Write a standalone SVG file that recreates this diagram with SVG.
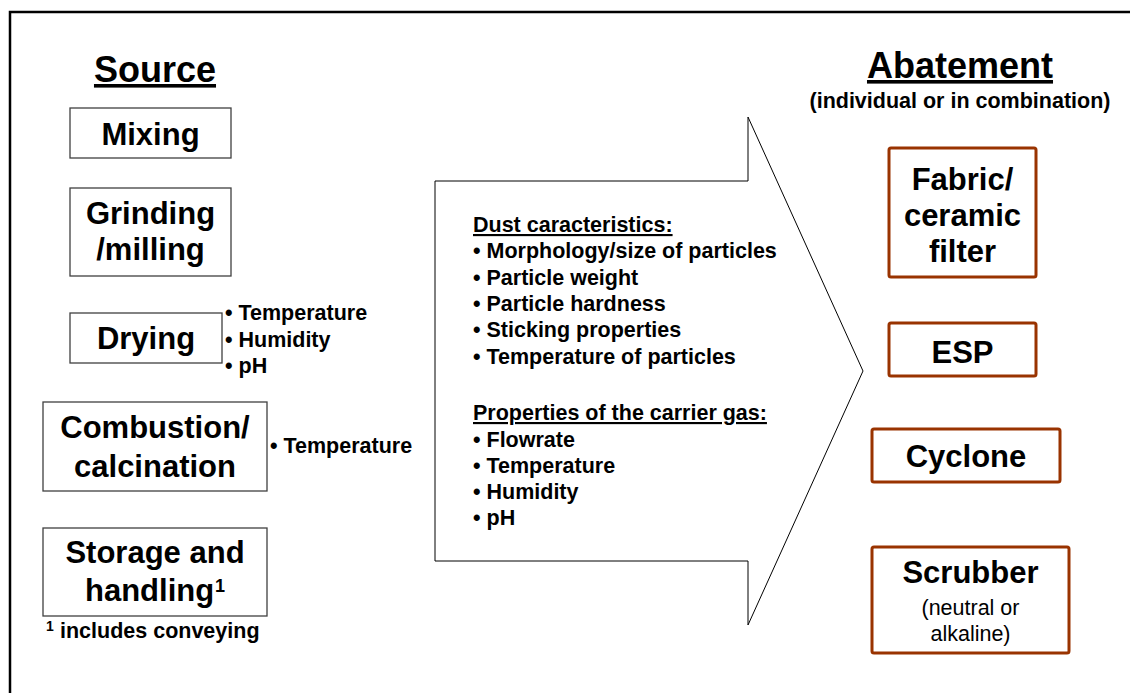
<svg xmlns="http://www.w3.org/2000/svg" width="1130" height="693" viewBox="0 0 1130 693">
<defs>
<style>
text { font-family: "Liberation Sans", Arial, sans-serif; fill: #000; }
.h { font-size: 36px; font-weight: bold; text-anchor: middle; text-decoration: underline; }
.b { font-size: 31px; font-weight: bold; text-anchor: middle; }
.s { font-size: 21.5px; font-weight: bold; }
.sn { font-size: 21.5px; text-anchor: middle; }
.src { fill: #fff; stroke: #404040; stroke-width: 1.3; }
.ab { fill: #fff; stroke: #993300; stroke-width: 3; }
</style>
</defs>
<rect width="1130" height="693" fill="#fff"/>
<path d="M10,693 V12 H1130" fill="none" stroke="#000" stroke-width="2.5"/>

<g id="source-heading"><text class="h" x="155" y="82">Source</text></g>
<g id="mixing"><rect class="src" x="70" y="108" width="161" height="50"/><text class="b" x="150.5" y="145">Mixing</text></g>
<g id="grinding"><rect class="src" x="70" y="188" width="161" height="88"/><text class="b" x="150.5" y="224">Grinding</text><text class="b" x="150.5" y="260">/milling</text></g>
<g id="drying"><rect class="src" x="70" y="313" width="152" height="50"/><text class="b" x="146" y="349">Drying</text>
<text class="s" x="225" y="320">• Temperature</text><text class="s" x="225" y="347">• Humidity</text><text class="s" x="225" y="373">• pH</text></g>
<g id="combustion"><rect class="src" x="43" y="402" width="224" height="89"/><text class="b" x="155" y="438">Combustion/</text><text class="b" x="155" y="477">calcination</text>
<text class="s" x="270" y="453">• Temperature</text></g>
<g id="storage"><rect class="src" x="43" y="528" width="224" height="88"/><text class="b" x="155" y="563">Storage and</text><text class="b" x="85" y="601" style="text-anchor:start">handling</text><text x="215" y="592" style="font-size:18px;font-weight:bold">1</text>
<text x="46" y="631" style="font-size:14px;font-weight:bold">1</text><text class="s" x="60" y="638">includes conveying</text></g>

<g id="connectors">
<polygon points="435,181 748,181 748,117 863,371 748,625 748,561 435,561" fill="#fff" stroke="#000" stroke-width="1"/>
</g>
<g id="properties">
<text class="s" x="473" y="232" style="text-decoration:underline">Dust caracteristics:</text>
<text class="s" x="473" y="258">• Morphology/size of particles</text>
<text class="s" x="473" y="285">• Particle weight</text>
<text class="s" x="473" y="311">• Particle hardness</text>
<text class="s" x="473" y="337">• Sticking properties</text>
<text class="s" x="473" y="364">• Temperature of particles</text>
<text class="s" x="473" y="420" style="text-decoration:underline">Properties of the carrier gas:</text>
<text class="s" x="473" y="447">• Flowrate</text>
<text class="s" x="473" y="473">• Temperature</text>
<text class="s" x="473" y="499">• Humidity</text>
<text class="s" x="473" y="525">• pH</text>
</g>

<g id="abatement-heading"><text class="h" x="960" y="78">Abatement</text><text class="s" x="960" y="108" style="text-anchor:middle">(individual or in combination)</text></g>
<g id="fabric"><rect class="ab" x="889" y="148" width="147" height="129" rx="2"/><text class="b" x="962.5" y="190">Fabric/</text><text class="b" x="962.5" y="226">ceramic</text><text class="b" x="962.5" y="262">filter</text></g>
<g id="esp"><rect class="ab" x="889" y="323" width="147" height="53" rx="2"/><text class="b" x="962.5" y="363">ESP</text></g>
<g id="cyclone"><rect class="ab" x="872" y="429" width="188" height="53" rx="2"/><text class="b" x="966" y="467">Cyclone</text></g>
<g id="scrubber"><rect class="ab" x="872" y="547" width="197" height="106" rx="2"/><text class="b" x="970.5" y="583">Scrubber</text><text class="sn" x="970.5" y="615">(neutral or</text><text class="sn" x="970.5" y="641">alkaline)</text></g>
</svg>
